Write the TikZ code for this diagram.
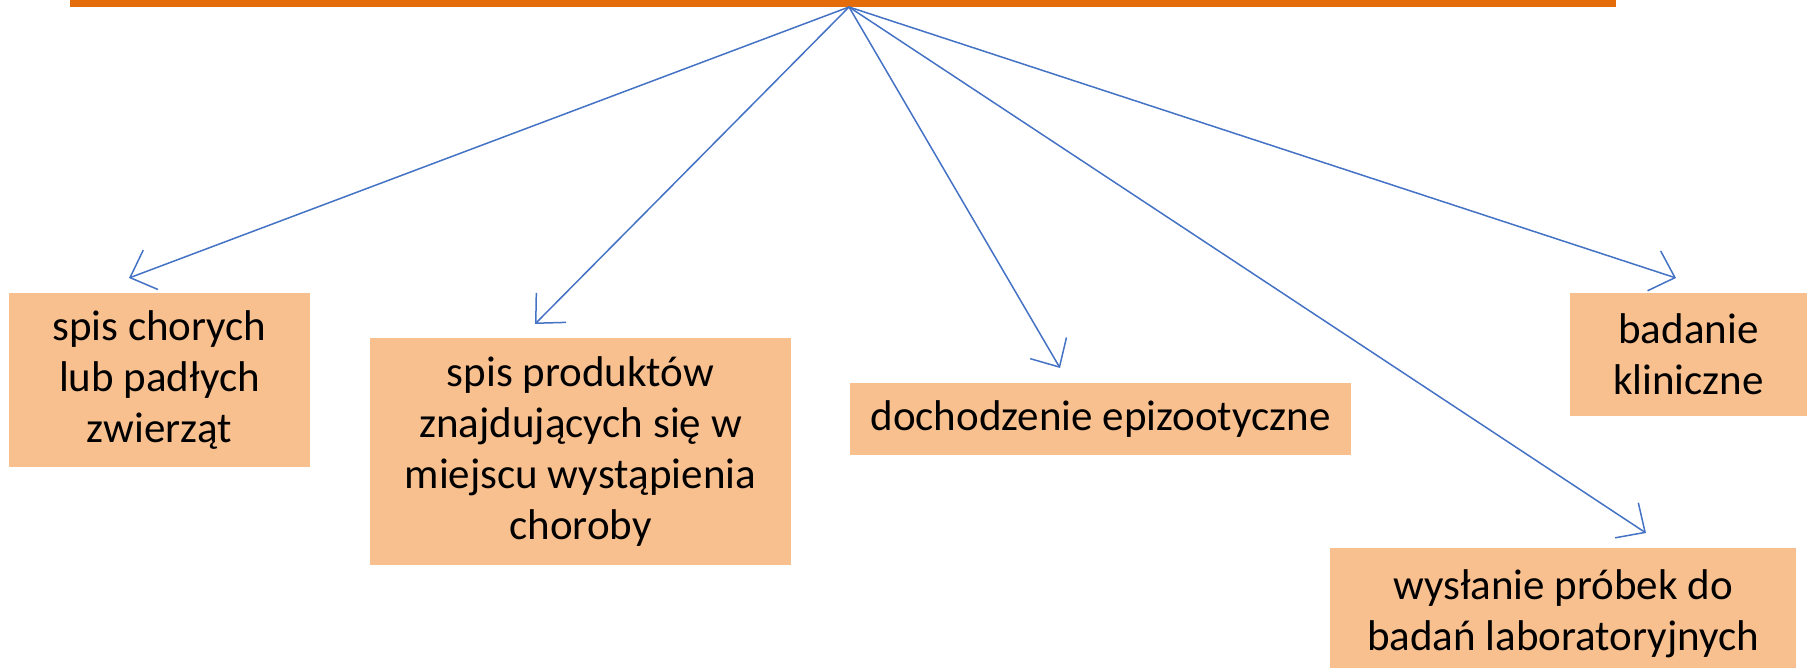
\documentclass[tikz,border=0pt]{standalone}
\usepackage{fontspec}
\setmainfont{Carlito}
\usetikzlibrary{arrows.meta}
\definecolor{barorange}{HTML}{E46C0A}
\definecolor{boxfill}{HTML}{F9C08F}
\definecolor{arrowblue}{HTML}{4472C4}
\tikzset{
  box/.style={fill=boxfill, inner sep=0pt, align=center, font=\fontsize{21.5}{25.5}\selectfont},
  conn/.style={draw=arrowblue, line width=0.75pt, -{Straight Barb[length=11pt,width=21pt,line width=0.75pt]}}
}
\begin{document}
\begin{tikzpicture}[x=0.5pt,y=-0.5pt]
\useasboundingbox (0,0) rectangle (1807,668);
\node (bar) [fill=barorange, inner sep=0pt, minimum width=773pt, minimum height=3.5pt] at (843,3.5) {};
\coordinate (apex) at (849,7);
\node (b1) [box, minimum width=150.5pt, minimum height=87pt] at (159.5,380) {spis chorych\\lub padłych\\zwierząt};
\node (b2) [box, minimum width=210.5pt, minimum height=113.5pt] at (580.5,451.5) {spis produktów\\znajdujących się w\\miejscu wystąpienia\\choroby};
\node (b3) [box, minimum width=250.5pt, minimum height=36pt] at (1100.5,419) {dochodzenie epizootyczne};
\node (b4) [box, minimum width=118.5pt, minimum height=61.5pt] at (1688.5,354.5) {badanie\\kliniczne};
\node (b5) [box, minimum width=233pt, minimum height=66pt] at (1563,614) {wysłanie próbek do\\badań laboratoryjnych};
\coordinate (t1) at (129,278);
\coordinate (t2) at (535,324);
\coordinate (t3) at (1060,368);
\coordinate (t4) at (1676,278);
\coordinate (t5) at (1646,533);
\draw[conn] (apex) -- (t1);
\draw[conn] (apex) -- (t2);
\draw[conn] (apex) -- (t3);
\draw[conn] (apex) -- (t4);
\draw[conn] (apex) -- (t5);
\end{tikzpicture}
\end{document}
